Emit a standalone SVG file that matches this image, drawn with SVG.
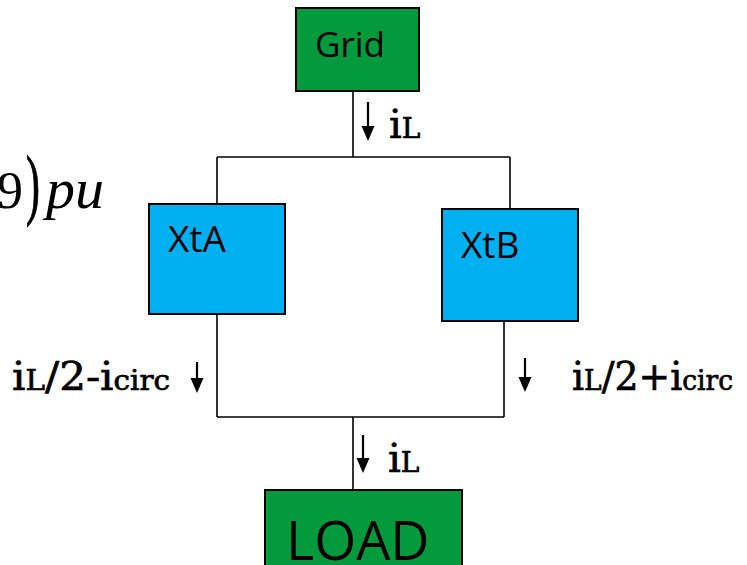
<svg xmlns="http://www.w3.org/2000/svg" width="747" height="565" viewBox="0 0 747 565">
<style>
.box{stroke:#000;stroke-width:2}
.green{fill:#029A3C}
.blue{fill:#00B0F0}
.lbl{font-family:"Open Sans","Noto Sans",sans-serif;fill:#000}
.wire{stroke:#000;stroke-width:1.6;fill:none}
.arr{stroke:#000;stroke-width:2.2;fill:none}
.math{font-family:"DejaVu Serif","Liberation Serif",serif;fill:#000;stroke:#000;stroke-width:0.7}
.big{font-size:40px}
.sm{font-size:28px}
</style>
<defs>
<path id="arrowhead" d="M-6.5,-15 L6.5,-15 L0,0 Z" fill="#000"/>
</defs>
<rect width="747" height="565" fill="#fff"/>
<g id="connectors">
<path class="wire" d="M353,91 V157 M217,157 H510 M217,157 V204 M510,157 V209"/>
<path class="wire" d="M217,314 V417 M504,321 V417 M217,417 H504 M353,417 V490"/>
<g id="arrows">
<path class="arr" d="M368,102 V128"/>
<use href="#arrowhead" x="368" y="141"/>
<path class="arr" d="M197,362 V381"/>
<use href="#arrowhead" x="197" y="393"/>
<path class="arr" d="M525,358 V380"/>
<use href="#arrowhead" x="525" y="392"/>
<path class="arr" d="M363,435 V460"/>
<use href="#arrowhead" x="363" y="473"/>
</g>
</g>
<g id="grid">
<rect class="box green" x="296" y="8" width="123" height="83"/>
<text class="lbl" x="315" y="57" font-size="35">Grid</text>
</g>
<g id="xta">
<rect class="box blue" x="149" y="204" width="136" height="110"/>
<text class="lbl" x="168" y="252" font-size="37">XtA</text>
</g>
<g id="xtb">
<rect class="box blue" x="442" y="209" width="136" height="112"/>
<text class="lbl" x="461" y="258" font-size="37">XtB</text>
</g>
<g id="load">
<rect class="box green" x="265" y="490" width="197" height="80"/>
<text class="lbl" x="286" y="560" font-size="54">LOAD</text>
</g>
<g id="labels">
<text class="math" x="389" y="138"><tspan class="big">i</tspan><tspan class="sm">L</tspan></text>
<text class="math" x="388" y="472"><tspan class="big">i</tspan><tspan class="sm">L</tspan></text>
<text class="math" x="12" y="390" textLength="158" lengthAdjust="spacingAndGlyphs"><tspan class="big">i</tspan><tspan class="sm">L</tspan><tspan class="big">/2-i</tspan><tspan class="sm">circ</tspan></text>
<text class="math" x="572" y="390" textLength="161" lengthAdjust="spacingAndGlyphs"><tspan class="big">i</tspan><tspan class="sm">L</tspan><tspan class="big">/2+i</tspan><tspan class="sm">circ</tspan></text>
<text font-family="Liberation Serif,serif" font-size="52" x="-3" y="208">9</text>
<text font-family="Liberation Serif,serif" font-size="52" stroke="#000" stroke-width="0.8" transform="translate(26,210) scale(0.8,1.5)">)</text>
<text font-family="Liberation Serif,serif" font-size="58" font-style="italic" x="46" y="208">pu</text>
</g>
</svg>
